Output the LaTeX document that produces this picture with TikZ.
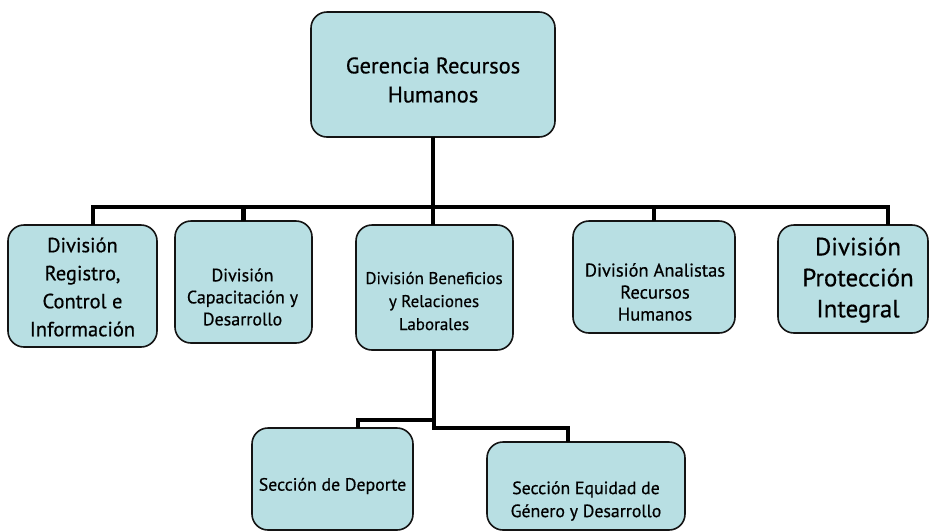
\documentclass[tikz,border=0pt]{standalone}
\usepackage{fontspec}
\setmainfont{PT Sans}[FakeBold=0.5]
\definecolor{boxfill}{RGB}{184,223,227}
\definecolor{boxline}{RGB}{20,20,20}
\tikzset{
  orgbox/.style={draw=boxline, fill=boxfill, line width=1.6pt, rounded corners=16pt, inner sep=0pt, outer sep=0pt},
  txt/.style={align=center, inner sep=0pt, text=black},
  conn/.style={draw=black, line width=4.6pt}
}
\begin{document}
\begin{tikzpicture}[x=1pt,y=-1pt]
\useasboundingbox (0,0) rectangle (933,531);
% boxes
\node[orgbox, minimum width=244pt, minimum height=125pt] (top) at (433,74.5) {};
\node[orgbox, minimum width=149pt, minimum height=122pt] (b1) at (82.5,286) {};
\node[orgbox, minimum width=137pt, minimum height=122pt] (b2) at (243.5,282) {};
\node[orgbox, minimum width=157pt, minimum height=125pt] (b3) at (434.5,287.5) {};
\node[orgbox, minimum width=162pt, minimum height=112pt] (b4) at (654,277) {};
\node[orgbox, minimum width=150pt, minimum height=108pt] (b5) at (853,279) {};
\node[orgbox, minimum width=161pt, minimum height=102pt] (b6) at (332.5,479) {};
\node[orgbox, minimum width=198pt, minimum height=88pt] (b7) at (586,486) {};
% texts
\node[txt, font=\fontsize{22.5}{29}\selectfont] (t0) at (433,80) {Gerencia Recursos\\Humanos};
\node[txt, font=\fontsize{20.5}{28}\selectfont] (t1) at (82.5,287) {División\\Registro,\\Control e\\Información};
\node[txt, font=\fontsize{18}{22}\selectfont] (t2) at (242.5,297) {División\\Capacitación y\\Desarrollo};
\node[txt, font=\fontsize{17}{23}\selectfont] (t3) at (434,301) {División Beneficios\\y Relaciones\\Laborales};
\node[txt, font=\fontsize{18.5}{22}\selectfont] (t4) at (655,292) {División Analistas\\Recursos\\Humanos};
\node[txt, font=\fontsize{25}{31}\selectfont] (t5) at (858,280) {División\\Protección\\Integral};
\node[txt, font=\fontsize{17.8}{22}\selectfont] (t6) at (332.5,486) {Sección de Deporte};
\node[txt, font=\fontsize{17.8}{23}\selectfont] (t7) at (586,501) {Sección Equidad de\\Género y Desarrollo};
% connectors
\coordinate (j1) at (93,207);
\coordinate (j5) at (888,207);
\draw[conn] (b1.north -| j1) -- (j1) -- (j5) -- (b5.north -| j5);
\draw[conn] (top.south) -- (top.south |- j1);
\draw[conn] (b2.north) -- (b2.north |- j1);
\draw[conn] (b3.north -| top.south) -- (top.south |- j1);
\draw[conn] (b4.north) -- (b4.north |- j1);
\coordinate (kl) at (358,420);
\coordinate (kr) at (568,428);
\coordinate (kc) at (434,428);
\draw[conn] (b3.south -| kc) -- (kc) -- (kr) -- (b7.north -| kr);
\draw[conn] (kc |- kl) -- (kl) -- (b6.north -| kl);
\end{tikzpicture}
\end{document}
